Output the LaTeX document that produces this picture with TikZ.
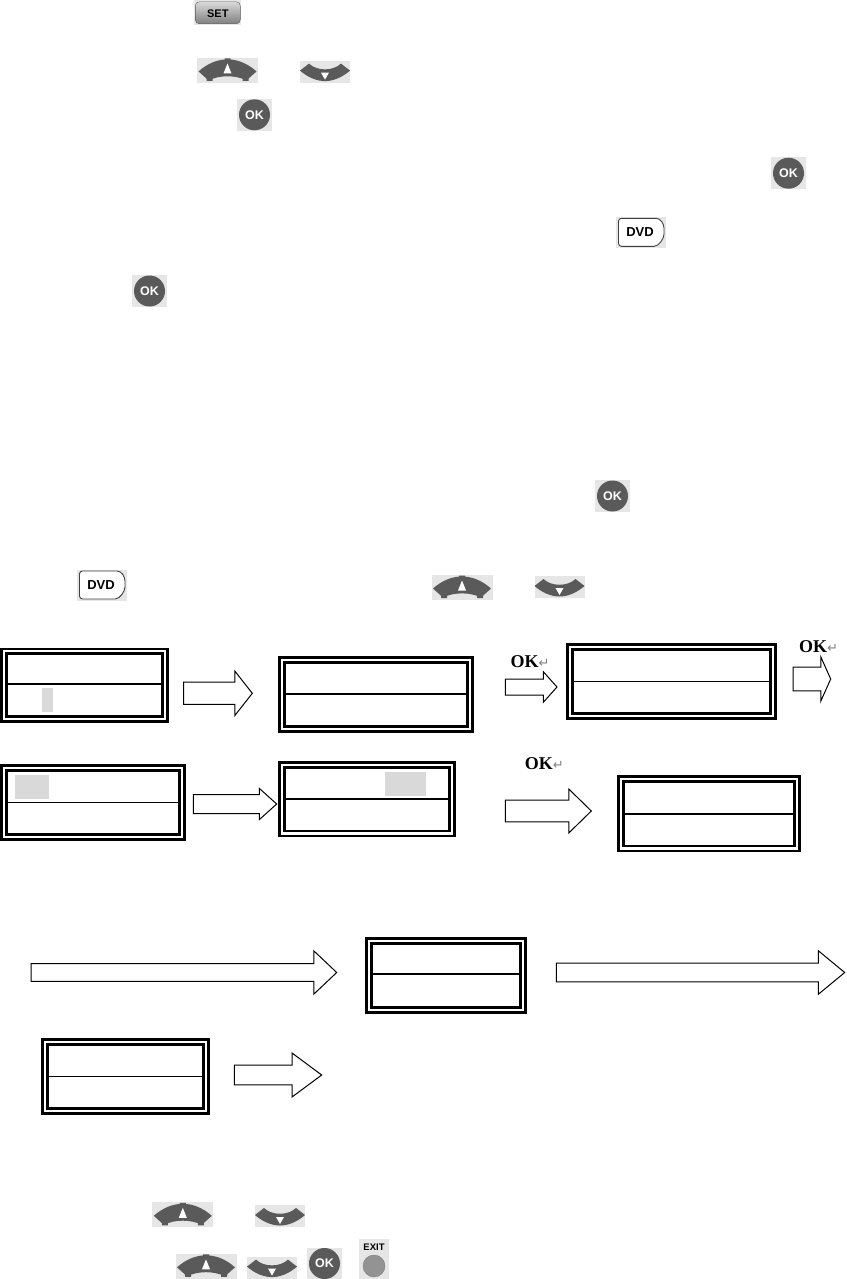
\documentclass[tikz,border=0pt]{standalone}
\usepackage{fontspec}
\setmainfont{Liberation Serif}
\setsansfont{Liberation Sans}
\newfontfamily\symbfont{DejaVu Sans}
\usepackage{xcolor}
\usetikzlibrary{positioning,shapes.arrows}
\definecolor{keybg}{HTML}{E6E6E6}
\definecolor{keydark}{HTML}{5A5A5A}
\definecolor{hilite}{HTML}{D9D9D9}
\newcommand{\okmark}{OK{\symbfont\mdseries\fontsize{13}{13}\selectfont\textcolor{gray}{↵}}}

\begin{document}
\begin{tikzpicture}[x=1pt, y=-1pt,
  lcd/.style 2 args={draw, fill=white, line width=2.8pt, double=white, double distance=2.1pt,
               outer sep=0pt, inner sep=0pt, minimum width={(#1-7.7)*1pt}, minimum height={(#2-7.7)*1pt}},
  rule/.style={line width=1.9pt, shorten >=3pt, shorten <=3pt},
  mark/.style 2 args={fill=hilite, inner sep=0pt, minimum width=#1pt, minimum height=#2pt},
  block/.style n args={4}{single arrow, draw, fill=white, line width=1pt, anchor=tail, inner xsep=0pt,
               inner ysep={#2*0.5pt}, outer sep=0pt, minimum height=#1pt,
               single arrow head extend={(#3-#2)*0.5pt}, single arrow tip angle={2*atan(#3*0.5/#4)}},
  oklab/.style={anchor=base west, inner sep=0pt, font=\fontsize{18}{18}\selectfont\bfseries},
  upkey/.pic={
    \fill[keybg] (-30.5,-12.5) rectangle (30.5,12.5);
    \fill[keydark] (-29,1) .. controls (-20,-7) and (-10,-11) .. (0,-11) .. controls (10,-11) and (20,-7) .. (29,1)
      -- (19,10) .. controls (8,4.5) and (-8,4.5) .. (-19,10) -- cycle;
    \fill[keydark] (-21,7) rectangle (-15,10.5) (15,7) rectangle (21,10.5) (-3,-12) rectangle (3,-9);
    \fill[white] (0,-7) -- (4,3) -- (-4,3) -- cycle;},
  downkey/.pic={
    \fill[keybg] (-25,-11) rectangle (25,11);
    \fill[keydark] (-25,-1) -- (-16,-8) .. controls (-8,-0.3) and (8,-0.3) .. (16,-8) -- (25,-1)
      .. controls (17,6) and (8,9.5) .. (0,9.5) .. controls (-8,9.5) and (-17,6) .. (-25,-1) -- cycle;
    \fill[white] (-4,1) -- (4,1) -- (0,8) -- cycle;},
  okkey/.pic={
    \fill[keybg] (-17.5,-16) rectangle (17.5,16);
    \fill[keydark] (0,0) circle (15.5pt);
    \node[text=white, inner sep=0pt, font=\sffamily\bfseries\fontsize{12.5}{13}\selectfont] (-t) at (0,0) {OK};},
  setkey/.pic={
    \fill[keybg] (-23.5,-12.3) rectangle (23.5,12.3);
    \draw[draw=keydark, top color=hilite, bottom color=gray, rounded corners=4pt] (-22.5,-10.5) rectangle (22.5,11.5);
    \node[inner sep=0pt, font=\sffamily\bfseries\fontsize{11}{11}\selectfont] (-t) at (0,1) {SET};},
  dvdkey/.pic={
    \fill[keybg] (-25,-15.5) rectangle (25,15.5);
    \draw[draw=black!75, fill=white, line width=0.9pt, rounded corners=3pt] (-22.5,-14) -- (12,-14)
      .. controls (20,-14) and (23,-8) .. (23,-1) .. controls (23,6) and (18,14) .. (10,14) -- (-22.5,14) -- cycle;
    \node[inner sep=0pt, font=\sffamily\bfseries\fontsize{13}{13}\selectfont] (-t) at (-1,0) {DVD};},
  exitkey/.pic={
    \fill[keybg] (-15,-20) rectangle (15,20);
    \node[inner sep=0pt, font=\sffamily\bfseries\fontsize{9.5}{10}\selectfont] (-t) at (0,-12) {EXIT};
    \draw[draw=gray, fill=gray!85] (0,7) circle (11pt);}]
\useasboundingbox (0,0) rectangle (846,1279);
\pic (set) at (217.8,12.3) {setkey};
\pic (up1) at (227.5,70.4) {upkey};
\pic (down1) at (325,71.6) {downkey};
\pic (ok1) at (254.5,114.8) {okkey};
\pic (ok2) at (788.5,173.2) {okkey};
\pic (dvd1) at (641,232.3) {dvdkey};
\pic (ok3) at (149.5,291) {okkey};
\pic (ok4) at (612.5,496) {okkey};
\pic (dvd2) at (102,585) {dvdkey};
\pic (up2) at (462,587.5) {upkey};
\pic (down2) at (559.5,587) {downkey};
\node[lcd={168.5}{75.2}] (b1) at (84.25,685.1) {};
\node[lcd={195.4}{76.7}] (b2) at (376,694.35) {};
\node[lcd={210.4}{76.4}] (b3) at (671.5,681.5) {};
\node[lcd={185.7}{76.4}] (b4) at (92.85,802.5) {};
\node[lcd={177.7}{76}] (b5) at (367.15,799.3) {};
\node[lcd={183.7}{77}] (b6) at (709.15,813.8) {};
\node[lcd={162}{76.4}] (b7) at (446,975.5) {};
\node[lcd={168.4}{76.7}] (b8) at (125.5,1076.35) {};
\draw[rule] ([yshift=.8pt]b1.west) -- ([yshift=.8pt]b1.east);
\draw[rule] (b2.west) -- (b2.east);
\draw[rule] (b3.west) -- (b3.east);
\draw[rule] (b4.west) -- (b4.east);
\draw[rule] (b5.west) -- (b5.east);
\draw[rule] (b6.west) -- (b6.east);
\draw[rule] ([yshift=1.2pt]b7.west) -- ([yshift=1.2pt]b7.east);
\draw[rule, line width=1pt] (b8.west) -- (b8.east);
\node[mark={11}{23.7}] (m1) at (47.5,699.85) {};
\node[mark={34}{24}] (m4) at (32,787) {};
\node[mark={41}{23.7}] (m5) at (405.5,783.85) {};
\node[block={68.6}{21.3}{43.3}{17}] (a1) at (183.7,693.3) {};
\node[block={83.4}{18}{30}{16.7}] (a2) at (193.3,804) {};
\node[block={51.7}{15}{29.7}{13.3}] (a3) at (505.3,687) {};
\node[block={37.7}{22.7}{43.4}{9.7}] (a4) at (793,679) {};
\node[block={86}{20.6}{43}{22}] (a5) at (505.3,811) {};
\node[block={305.7}{16.7}{42.4}{22.4}] (a6) at (31,972.5) {};
\node[block={288.4}{17.6}{42.4}{25.7}] (a7) at (556.3,972.5) {};
\node[block={87.4}{18.6}{43}{29}] (a8) at (234.3,1075) {};
\node[oklab] (k1) at (510.3,667.3) {\okmark};
\node[oklab] (k2) at (799,652.7) {\okmark};
\node[oklab] (k3) at (524.7,769) {\okmark};
\pic (up3) at (182.8,1214.8) {upkey};
\pic (down3) at (280,1216) {downkey};
\pic (up4) at (206,1266.3) {upkey};
\pic (down4) at (272,1267.6) {downkey};
\pic (ok5) at (324.5,1263.5) {okkey};
\pic (exit) at (374,1259) {exitkey};
\end{tikzpicture}
\end{document}
